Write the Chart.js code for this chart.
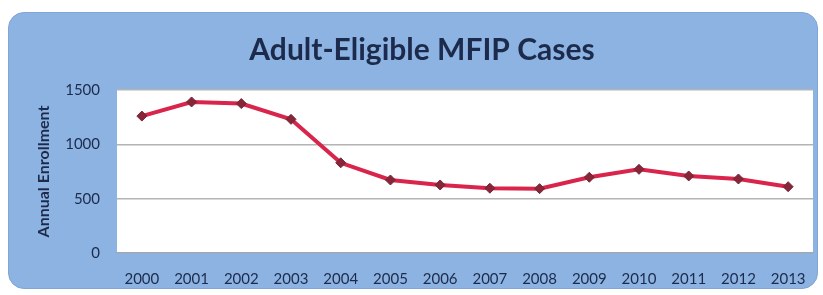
<!DOCTYPE html>
<html>
<head>
<meta charset="utf-8">
<script src="https://cdn.jsdelivr.net/npm/chart.js@4"></script>
<style>
  html, body { margin: 0; padding: 0; background: #fff; }
  .wrap { position: relative; width: 823px; height: 295px; }
  .panel {
    position: absolute; left: 8px; top: 12px; width: 808px; height: 275px;
    background: #8db3e2; border: 1px solid #7fa6d6; border-radius: 16px;
  }
  canvas { position: absolute; left: 0; top: 0; }
</style>
</head>
<body>
<div class="wrap">
  <div class="panel"></div>
  <canvas id="chart" width="823" height="295"></canvas>
</div>
<script>
const years = ['2000', '2001', '2002', '2003', '2004', '2005', '2006',
  '2007', '2008', '2009', '2010', '2011', '2012', '2013'];
const enrollment = [1260, 1390, 1375, 1230, 830, 672, 626, 596, 592, 697, 770, 709, 681, 610];
const yTicks = [0, 500, 1000, 1500];
const chartTitle = 'Adult-Eligible MFIP Cases';

const navy = '#1c2b4b';

// white plot area behind the line
const plotBg = {
  id: 'plotBg',
  beforeDraw(chart) {
    const { ctx, chartArea: a } = chart;
    ctx.save();
    ctx.fillStyle = '#ffffff';
    ctx.fillRect(a.left, a.top, a.right - a.left, a.bottom - a.top);
    ctx.restore();
  }
};

// title sits a bit right of the canvas centre, like in the original
const titleText = {
  id: 'titleText',
  afterDraw(chart) {
    const c = chart.ctx;
    c.save();
    c.fillStyle = navy;
    c.font = 'bold 30px Lato';
    c.textAlign = 'center';
    c.textBaseline = 'middle';
    c.fillText(chartTitle, 422, 50);
    c.restore();
  }
};

let ctx = document.getElementById('chart');
let chart = new Chart(ctx, {
  type: 'line',
  data: {
    labels: years,
    datasets: [{
      label: 'Annual Enrollment',
      data: enrollment,
      borderColor: '#d9254c',
      borderWidth: 4,
      tension: 0,
      fill: false,
      pointStyle: 'rectRot',
      pointRadius: 5,
      pointBackgroundColor: '#8a2438',
      pointBorderColor: '#6e2a36',
      pointBorderWidth: 1
    }]
  },
  options: {
    responsive: false,
    animation: false,
    layout: { padding: { left: 0, right: 10, top: 90, bottom: 0 } },
    plugins: {
      legend: { display: false },
      tooltip: { enabled: false },
      title: { display: false }
    },
    scales: {
      x: {
        offset: true,
        grid: { display: false, drawTicks: false },
        border: { color: '#9aa8bd', width: 1.5 },
        ticks: {
          color: navy,
          padding: 17,
          maxRotation: 0,
          font: { family: 'Lato', size: 15 }
        },
        afterFit(scale) { scale.height = 42; }
      },
      y: {
        min: 0,
        max: 1500,
        afterBuildTicks(scale) { scale.ticks = yTicks.map(v => ({ value: v })); },
        grid: { color: '#b4b4b4', lineWidth: 1.5, drawTicks: false },
        border: { display: false },
        ticks: {
          color: navy,
          padding: 17,
          font: { family: 'Lato', size: 15 },
          callback: v => String(v)
        },
        title: {
          display: true,
          text: 'Annual Enrollment',
          color: navy,
          font: { family: 'Lato', size: 16, weight: 'bold' },
          padding: { top: 34, bottom: 0 }
        },
        afterFit(scale) { scale.width = 117; }
      }
    }
  },
  plugins: [plotBg, titleText]
});
</script>
</body>
</html>
